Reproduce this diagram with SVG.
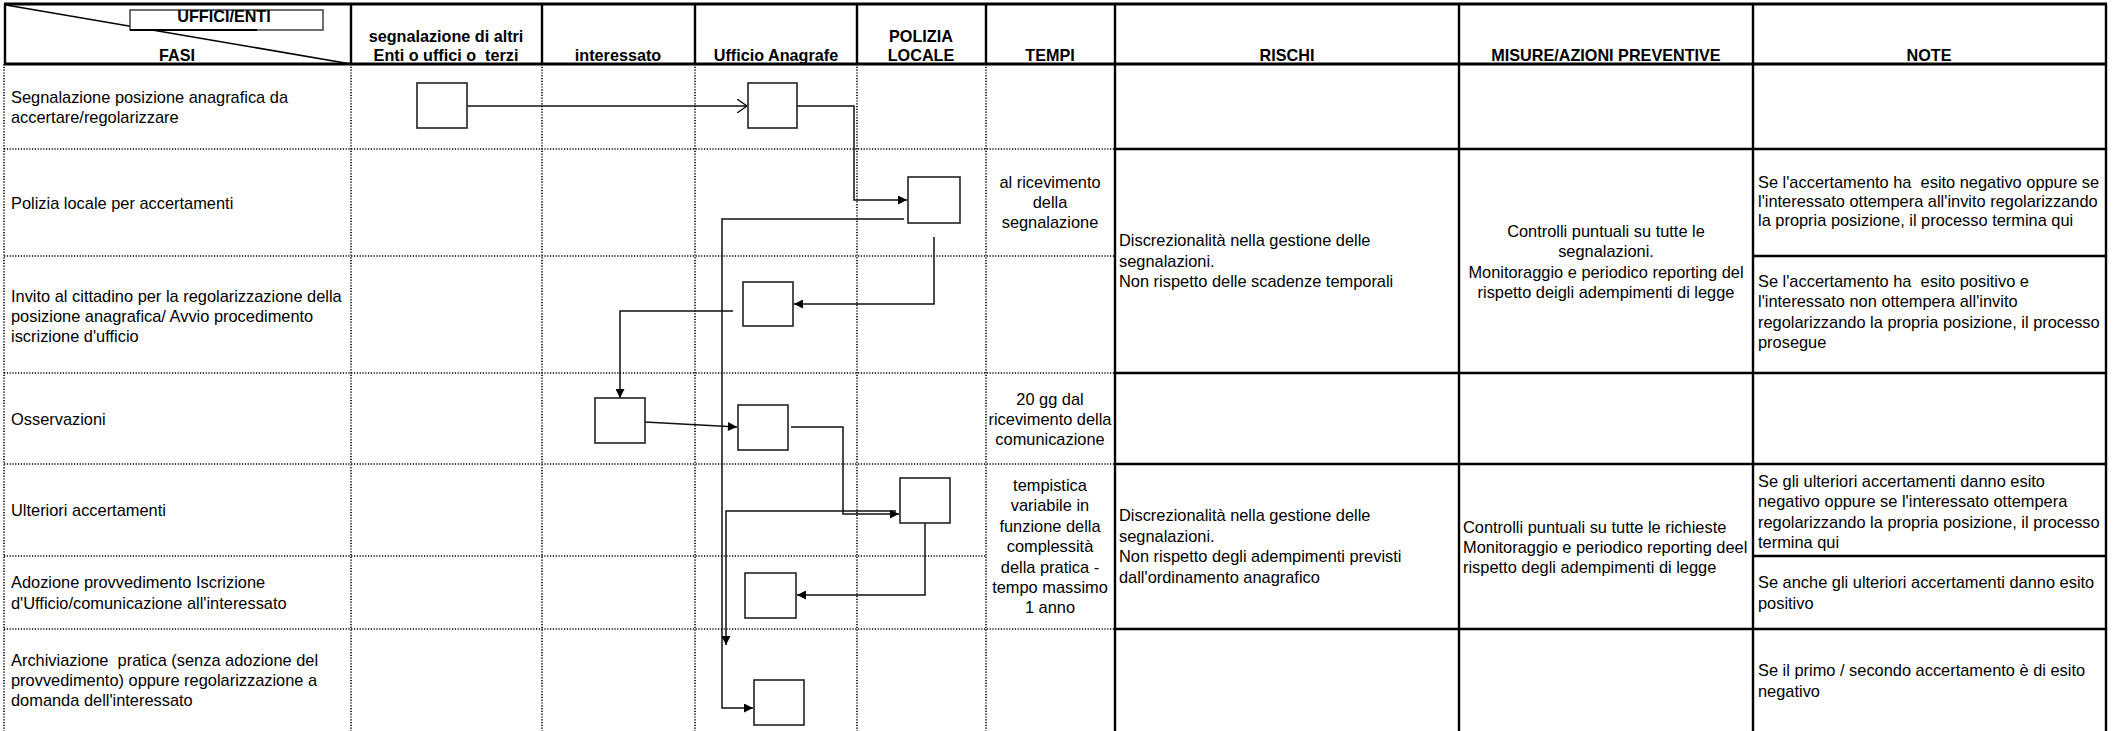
<svg xmlns="http://www.w3.org/2000/svg" width="2114" height="731" viewBox="0 0 2114 731">
<defs>
<style>
text{font-family:"Liberation Sans",Arial,sans-serif;font-size:16.4px;fill:#000}
.h{font-weight:bold;text-anchor:middle;font-size:16.2px}
.c{text-anchor:middle}
.pre{white-space:pre}
.sol{stroke:#000;stroke-width:3;fill:none}
.sol2{stroke:#000;stroke-width:2.4;fill:none}
.dot{stroke:#000;stroke-width:1.6;stroke-dasharray:1.2 1.6;fill:none}
.box{fill:#fff;stroke:#222;stroke-width:1.6}
.con{fill:none;stroke:#111;stroke-width:1.5}
</style>
<marker id="arr" viewBox="0 0 10 10" refX="10" refY="5" markerWidth="10" markerHeight="9" markerUnits="userSpaceOnUse" orient="auto"><path d="M0,0 L10,5 L0,10 z" fill="#000"/></marker>
<marker id="open" viewBox="0 0 10 14" refX="10" refY="7" markerWidth="10" markerHeight="14" markerUnits="userSpaceOnUse" orient="auto"><path d="M0,0 L10,7 L0,14" fill="none" stroke="#000" stroke-width="1.3"/></marker>
<clipPath id="ubox"><rect x="130" y="10" width="193" height="20"/></clipPath>
</defs>
<rect width="2114" height="731" fill="#fff"/>

<g id="grid">
<path class="dot" d="M4 64V731M351 64V731M542 64V731M695 64V731M857 64V731M986 64V731"/>
<path class="dot" d="M4 149H1115M4 256H1115M4 373H1115M4 464H1115M4 556H986M4 629H1115"/>
<path class="sol2" d="M1115 64V731M1459 64V731M1753 64V731M2106 4V731"/>
<path class="sol2" d="M1115 149H2106M1753 256H2106M1115 373H2106M1115 464H2106M1753 556H2106M1115 629H2106"/>
<path class="sol" d="M4 4H2107M4 64H2107"/>
<path class="sol2" d="M5 4V64M351 4V64M542 4V64M695 4V64M857 4V64M986 4V64M1115 4V64M1459 4V64M1753 4V64"/>
<path d="M6 5L351 64" stroke="#000" stroke-width="1.6" fill="none"/>
</g>

<g id="header">
<g id="uffici-enti">
<rect x="130" y="10" width="193" height="20" fill="#fff" stroke="#333" stroke-width="1.4"/>
<path d="M130 30H257" stroke="#000" stroke-width="2"/>
<text class="h" x="224" y="22" clip-path="url(#ubox)">UFFICI/ENTI</text>
</g>
<text class="h" x="177" y="61">FASI</text>
<text class="h" x="446" y="42">segnalazione di altri</text>
<text class="h pre" x="446" y="61">Enti o uffici o  terzi</text>
<text class="h" x="618" y="61">interessato</text>
<text class="h" x="776" y="61">Ufficio Anagrafe</text>
<text class="h" x="921" y="42">POLIZIA</text>
<text class="h" x="921" y="61">LOCALE</text>
<text class="h" x="1050" y="61">TEMPI</text>
<text class="h" x="1287" y="61">RISCHI</text>
<text class="h" x="1606" y="61">MISURE/AZIONI PREVENTIVE</text>
<text class="h" x="1929" y="61">NOTE</text>
</g>

<g id="fasi">
<text x="11" y="103">Segnalazione posizione anagrafica da</text>
<text x="11" y="123">accertare/regolarizzare</text>
<text x="11" y="209">Polizia locale per accertamenti</text>
<text x="11" y="302">Invito al cittadino per la regolarizzazione della</text>
<text x="11" y="322">posizione anagrafica/ Avvio procedimento</text>
<text x="11" y="342">iscrizione d'ufficio</text>
<text x="11" y="425">Osservazioni</text>
<text x="11" y="516">Ulteriori accertamenti</text>
<text x="11" y="588">Adozione provvedimento Iscrizione</text>
<text x="11" y="609">d'Ufficio/comunicazione all'interessato</text>
<text class="pre" x="11" y="666">Archiviazione  pratica (senza adozione del</text>
<text x="11" y="686">provvedimento) oppure regolarizzazione a</text>
<text x="11" y="706">domanda dell'interessato</text>
</g>

<g id="tempi">
<text class="c" x="1050" y="188">al ricevimento</text>
<text class="c" x="1050" y="208">della</text>
<text class="c" x="1050" y="228">segnalazione</text>
<text class="c" x="1050" y="405">20 gg dal</text>
<text class="c" x="1050" y="425">ricevimento della</text>
<text class="c" x="1050" y="445">comunicazione</text>
<text class="c" x="1050" y="491">tempistica</text>
<text class="c" x="1050" y="511">variabile in</text>
<text class="c" x="1050" y="532">funzione della</text>
<text class="c" x="1050" y="552">complessità</text>
<text class="c" x="1050" y="573">della pratica -</text>
<text class="c" x="1050" y="593">tempo massimo</text>
<text class="c" x="1050" y="613">1 anno</text>
</g>

<g id="rischi">
<text x="1119" y="246">Discrezionalità nella gestione delle</text>
<text x="1119" y="267">segnalazioni.</text>
<text x="1119" y="287">Non rispetto delle scadenze temporali</text>
<text x="1119" y="521">Discrezionalità nella gestione delle</text>
<text x="1119" y="542">segnalazioni.</text>
<text x="1119" y="562">Non rispetto degli adempimenti previsti</text>
<text x="1119" y="583">dall'ordinamento anagrafico</text>
</g>

<g id="misure">
<text class="c" x="1606" y="237">Controlli puntuali su tutte le</text>
<text class="c" x="1606" y="257">segnalazioni.</text>
<text class="c" x="1606" y="278">Monitoraggio e periodico reporting del</text>
<text class="c" x="1606" y="298">rispetto deigli adempimenti di legge</text>
<text x="1463" y="533">Controlli puntuali su tutte le richieste</text>
<text x="1463" y="553">Monitoraggio e periodico reporting deel</text>
<text x="1463" y="573">rispetto degli adempimenti di legge</text>
</g>

<g id="note">
<text class="pre" x="1758" y="188">Se l'accertamento ha  esito negativo oppure se</text>
<text x="1758" y="207">l'interessato ottempera all'invito regolarizzando</text>
<text x="1758" y="226">la propria posizione, il processo termina qui</text>
<text class="pre" x="1758" y="287">Se l'accertamento ha  esito positivo e</text>
<text x="1758" y="307">l'interessato non ottempera all'invito</text>
<text x="1758" y="328">regolarizzando la propria posizione, il processo</text>
<text x="1758" y="348">prosegue</text>
<text x="1758" y="487">Se gli ulteriori accertamenti danno esito</text>
<text x="1758" y="507">negativo oppure se l'interessato ottempera</text>
<text x="1758" y="528">regolarizzando la propria posizione, il processo</text>
<text x="1758" y="548">termina qui</text>
<text x="1758" y="588">Se anche gli ulteriori accertamenti danno esito</text>
<text x="1758" y="609">positivo</text>
<text x="1758" y="676">Se il primo / secondo accertamento è di esito</text>
<text x="1758" y="697">negativo</text>
</g>

<g id="connectors">
<path class="con" d="M467 106H747" marker-end="url(#open)"/>
<path class="con" d="M797 106H854V200H907" marker-end="url(#arr)"/>
<path class="con" d="M904 219H722V708H753" marker-end="url(#arr)"/>
<path class="con" d="M934 237V304H794" marker-end="url(#arr)"/>
<path class="con" d="M733 311H620V398" marker-end="url(#arr)"/>
<path class="con" d="M645 422L737 427" marker-end="url(#arr)"/>
<path class="con" d="M791 427H843V514H899" marker-end="url(#arr)"/>
<path class="con" d="M925 523V595H797" marker-end="url(#arr)"/>
<path class="con" d="M896 511H726V645" marker-end="url(#arr)"/>
</g>

<g id="n-segnalazione"><rect class="box" x="417" y="83" width="50" height="45"/></g>
<g id="n-anagrafe-1"><rect class="box" x="748" y="83" width="49" height="45"/></g>
<g id="n-polizia-1"><rect class="box" x="908" y="177" width="52" height="46"/></g>
<g id="n-anagrafe-2"><rect class="box" x="743" y="282" width="50" height="44"/></g>
<g id="n-interessato"><rect class="box" x="595" y="398" width="50" height="45"/></g>
<g id="n-anagrafe-3"><rect class="box" x="738" y="405" width="50" height="45"/></g>
<g id="n-polizia-2"><rect class="box" x="900" y="478" width="50" height="45"/></g>
<g id="n-anagrafe-4"><rect class="box" x="745" y="573" width="51" height="45"/></g>
<g id="n-anagrafe-5"><rect class="box" x="754" y="680" width="50" height="45"/></g>
</svg>
